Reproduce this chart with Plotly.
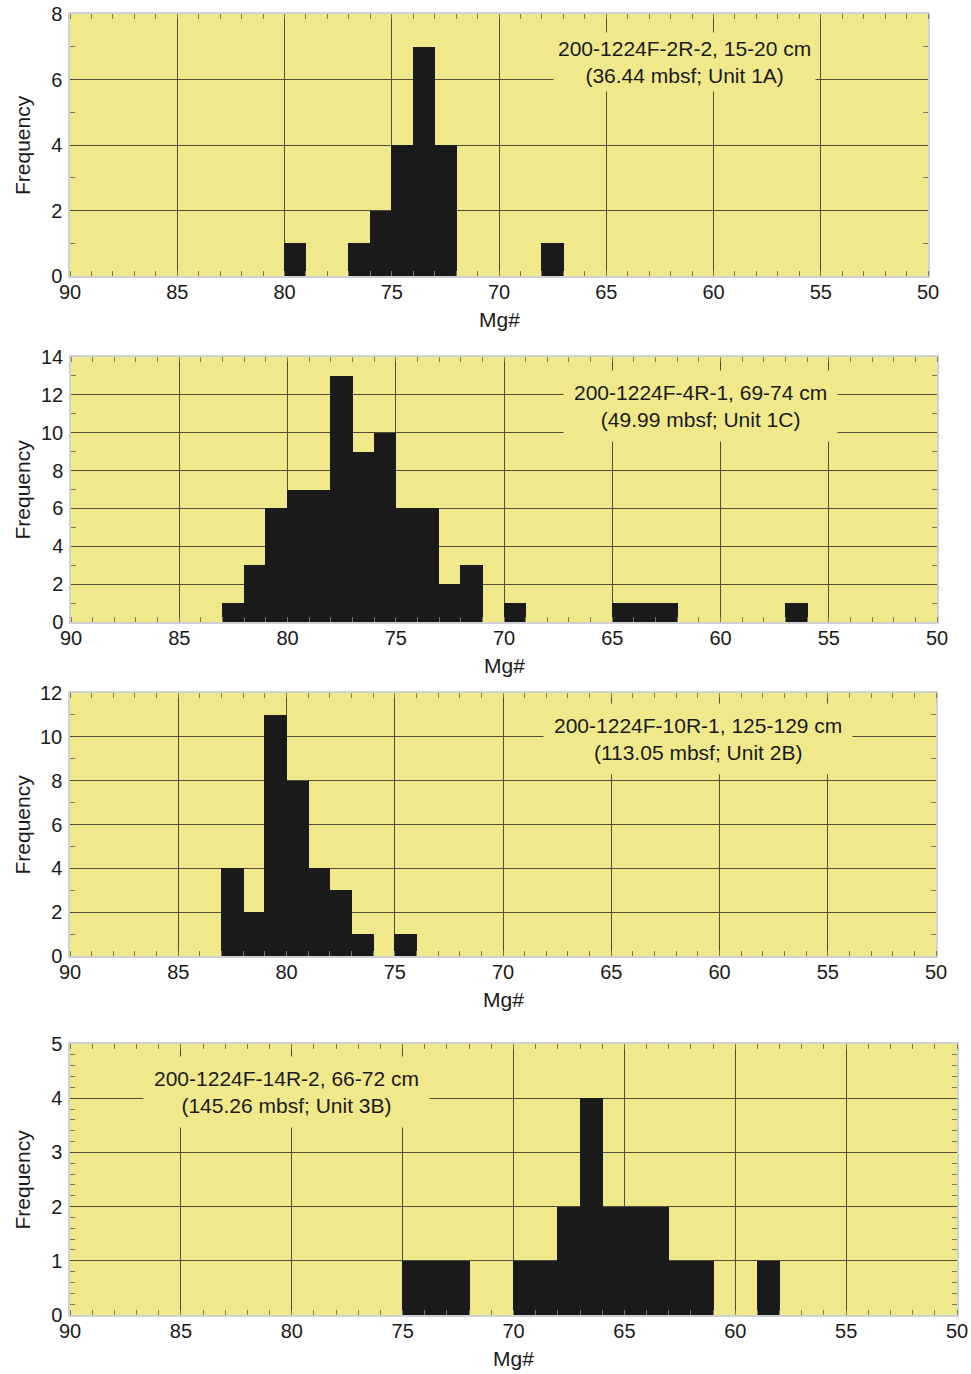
import plotly.graph_objects as go

# ---------------- data (bin centres in Mg#, counts) ----------------
p1_mg = [79.5, 76.5, 75.5, 74.5, 73.5, 72.5, 67.5]
p1_count = [1, 1, 2, 4, 7, 4, 1]

p2_mg = [82.5, 81.5, 80.5, 79.5, 78.5, 77.5, 76.5, 75.5, 74.5, 73.5, 72.5, 71.5,
         69.5, 64.5, 63.5, 62.5, 56.5]
p2_count = [1, 3, 6, 7, 7, 13, 9, 10, 6, 6, 2, 3, 1, 1, 1, 1, 1]

p3_mg = [82.5, 81.5, 80.5, 79.5, 78.5, 77.5, 76.5, 74.5]
p3_count = [4, 2, 11, 8, 4, 3, 1, 1]

p4_mg = [74.5, 73.5, 72.5, 69.5, 68.5, 67.5, 66.5, 65.5, 64.5, 63.5, 62.5, 61.5, 58.5]
p4_count = [1, 1, 1, 1, 1, 2, 4, 2, 2, 2, 1, 1, 1]

x_ticks = [90, 85, 80, 75, 70, 65, 60, 55, 50]

labels = [
    "200-1224F-2R-2, 15-20 cm<br>(36.44 mbsf; Unit 1A)",
    "200-1224F-4R-1, 69-74 cm<br>(49.99 mbsf; Unit 1C)",
    "200-1224F-10R-1, 125-129 cm<br>(113.05 mbsf; Unit 2B)",
    "200-1224F-14R-2, 66-72 cm<br>(145.26 mbsf; Unit 3B)",
]
y_max = [8, 14, 12, 5]
y_step = [2, 2, 2, 1]
y_minor = [1, 1, 1, 0.2]

# ---------------- layout geometry (pixels) ----------------
W, H = 971, 1374
panels = [  # x0, x1, ytop, ybottom
    (70, 928, 14, 276),
    (71, 937, 357, 622),
    (70, 936, 693, 956),
    (70, 957, 1044, 1315),
]
label_pos = [(684, 62), (700, 406), (698, 739), (286, 1092)]
label_pad = [4, 10, 10, 10]

YELLOW = "#F0E98C"
GRID = "#4f4c38"
FONT = "Liberation Sans, Arial, Helvetica, sans-serif"

fig = go.Figure()
series = [(p1_mg, p1_count), (p2_mg, p2_count), (p3_mg, p3_count), (p4_mg, p4_count)]

for i, ((mg, cnt), (x0, x1, yt, yb)) in enumerate(zip(series, panels)):
    n = "" if i == 0 else str(i + 1)
    fig.add_trace(go.Bar(
        x=mg, y=cnt, width=1.04,
        marker=dict(color="#1b1a1a", line=dict(width=0)),
        xaxis="x" + n, yaxis="y" + n, showlegend=False,
    ))
    common = dict(
        showline=True, linecolor="#cfcfd6", linewidth=1.5, mirror="allticks",
        showgrid=True, gridcolor=GRID, gridwidth=1.2, zeroline=False,
        automargin=False,
        ticks="", tickfont=dict(family=FONT, size=20, color="#1a1a1a"),
    )
    fig.update_layout({
        "xaxis" + n: dict(
            common, domain=[x0 / W, x1 / W], anchor="y" + n,
            range=[90, 50], tickvals=x_ticks, ticklabelstandoff=-3,
            minor=dict(ticks="inside", dtick=1, tick0=0, ticklen=5,
                       tickcolor="#7d7a5e", showgrid=False),
        ),
        "yaxis" + n: dict(
            common, domain=[1 - yb / H, 1 - yt / H], anchor="x" + n,
            range=[0, y_max[i]], dtick=y_step[i], tick0=0, ticklabelstandoff=2,
            minor=dict(ticks="inside", dtick=y_minor[i], tick0=0, ticklen=5,
                       tickcolor="#7d7a5e", showgrid=False),
        ),
    })
    # axis titles
    fig.add_annotation(text="Frequency", xref="paper", yref="paper",
                       x=22 / W, y=1 - ((yt + yb) / 2) / H, textangle=-90,
                       showarrow=False, font=dict(family=FONT, size=21, color="#1a1a1a"),
                       xanchor="center", yanchor="middle")
    fig.add_annotation(text="Mg#", xref="paper", yref="paper",
                       x=((x0 + x1) / 2) / W, y=1 - (yb + 43) / H,
                       showarrow=False, font=dict(family=FONT, size=21, color="#1a1a1a"),
                       xanchor="center", yanchor="middle")
    # sample label
    lx, ly = label_pos[i]
    fig.add_annotation(text=labels[i], xref="paper", yref="paper",
                       x=lx / W, y=1 - ly / H, showarrow=False, align="center",
                       bgcolor=YELLOW, borderpad=label_pad[i],
                       font=dict(family=FONT, size=21, color="#1a1a1a"),
                       xanchor="center", yanchor="middle")

fig.update_layout(
    width=W, height=H,
    margin=dict(l=0, r=0, t=0, b=0),
    paper_bgcolor="white", plot_bgcolor=YELLOW,
    bargap=0, barmode="overlay",
    font=dict(family=FONT, size=20, color="#1a1a1a"),
)

fig.write_html("out.html")
